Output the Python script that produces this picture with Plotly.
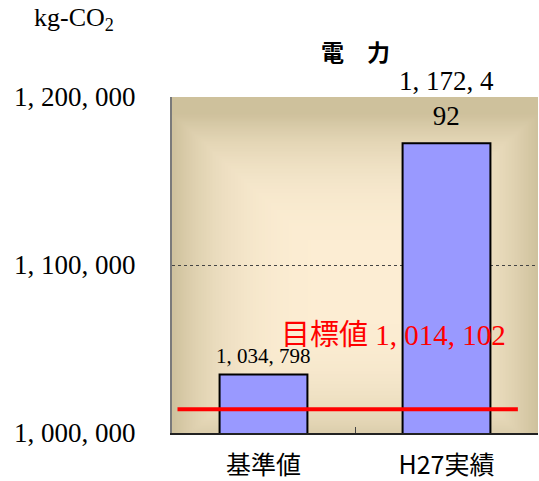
import base64
import struct
import zlib

import plotly.graph_objects as go

# --- data -------------------------------------------------------------
categories = ["基準値", "H27実績"]
values = [1034798, 1172492]
target = 1014102
target_label = "目標値"
y_ticks = [1000000, 1100000, 1200000]
title_text = "電　力"
unit_text = "kg-CO<sub>2</sub>"

SERIF = "'Liberation Serif', 'DejaVu Serif', 'Noto Sans CJK JP', serif"
CJK = "'Noto Sans CJK JP', sans-serif"


def fmt(v):
    return f"{v:,}".replace(",", ", ")


# --- soft centre-out background for the plot area ----------------------
def gradient_png(w, h, inner, outer, power=3.4):
    rows = []
    for j in range(h):
        v = abs((j + 0.5) / h * 2 - 1.1)
        row = bytearray()
        for i in range(w):
            u = abs((i + 0.5) / w * 2 - 1)
            t = min(1.0, max(u, v)) ** power
            for a, b in zip(inner, outer):
                row.append(int(round(a + (b - a) * t)))
        rows.append(row)
    raw = b"".join(b"\x00" + bytes(r) for r in rows)

    def chunk(tag, data):
        c = struct.pack(">I", len(data)) + tag + data
        return c + struct.pack(">I", zlib.crc32(tag + data) & 0xFFFFFFFF)

    png = b"\x89PNG\r\n\x1a\n"
    png += chunk(b"IHDR", struct.pack(">IIBBBBB", w, h, 8, 2, 0, 0, 0))
    png += chunk(b"IDAT", zlib.compress(raw, 9))
    png += chunk(b"IEND", b"")
    return "data:image/png;base64," + base64.b64encode(png).decode()


bg = gradient_png(120, 100, (252, 237, 211), (206, 193, 156))

fig = go.Figure()
fig.add_trace(
    go.Bar(
        x=categories,
        y=values,
        width=0.48,
        marker=dict(color="#9999ff", line=dict(color="#000000", width=2)),
        hoverinfo="skip",
    )
)

# value labels above the bars (the long one wraps onto two lines)
lab1 = fmt(values[0])
fig.add_annotation(
    x=categories[0], y=values[0], text=lab1, showarrow=False,
    yanchor="bottom", yshift=5, font=dict(family=SERIF, size=21, color="#000"),
)
lab2 = fmt(values[1])
fig.add_annotation(
    x=categories[1], y=values[1], text=lab2[:9] + "<br>" + lab2[9:].strip(),
    showarrow=False, yanchor="bottom", yshift=10,
    font=dict(family=SERIF, size=27, color="#000"),
)

# target line and its label
fig.add_shape(
    type="line", xref="x", yref="y", x0=-0.47, x1=1.39, y0=target, y1=target,
    line=dict(color="#ff0000", width=4), layer="above",
)
fig.add_annotation(
    x=0.71, y=target, text=f"{target_label} {fmt(target)}", showarrow=False,
    yanchor="middle", yshift=74, font=dict(family=SERIF, size=29, color="#ff0000"),
)

# title and unit
fig.add_annotation(
    xref="paper", yref="paper", x=0.5, y=1, yanchor="middle", yshift=46,
    text=f"<b>{title_text}</b>",
    showarrow=False, font=dict(family=CJK, size=23, color="#000"),
)
fig.add_annotation(
    xref="paper", yref="paper", x=-0.268, xanchor="center", y=1,
    yanchor="middle", yshift=78,
    text=unit_text, showarrow=False, font=dict(family=SERIF, size=26, color="#000"),
)

fig.add_layout_image(
    source=bg, xref="paper", yref="paper", x=0, y=1, sizex=1, sizey=1,
    sizing="stretch", layer="below", xanchor="left", yanchor="top",
)

fig.update_layout(
    width=539, height=481,
    margin=dict(l=172, r=1, t=97, b=48),
    paper_bgcolor="#ffffff",
    plot_bgcolor="rgba(0,0,0,0)",
    showlegend=False,
    bargap=0.52,
)
fig.update_xaxes(
    range=[-0.5, 1.5],
    showline=True, linecolor="#222", linewidth=2,
    ticks="inside", tickson="boundaries", ticklen=6, tickcolor="#444",
    showgrid=False,
    tickfont=dict(family=CJK, size=25, color="#000"),
    ticklabelstandoff=9,
)
fig.update_yaxes(
    range=[1000000, 1200000],
    tickvals=y_ticks, ticktext=[fmt(v) for v in y_ticks],
    showline=True, linecolor="#7a7a7a", linewidth=2,
    ticks="", showgrid=True, gridcolor="#444", griddash="dot", gridwidth=1,
    zeroline=False,
    tickfont=dict(family=SERIF, size=27, color="#000"),
    ticklabelstandoff=29,
)

fig.write_html("out.html")
